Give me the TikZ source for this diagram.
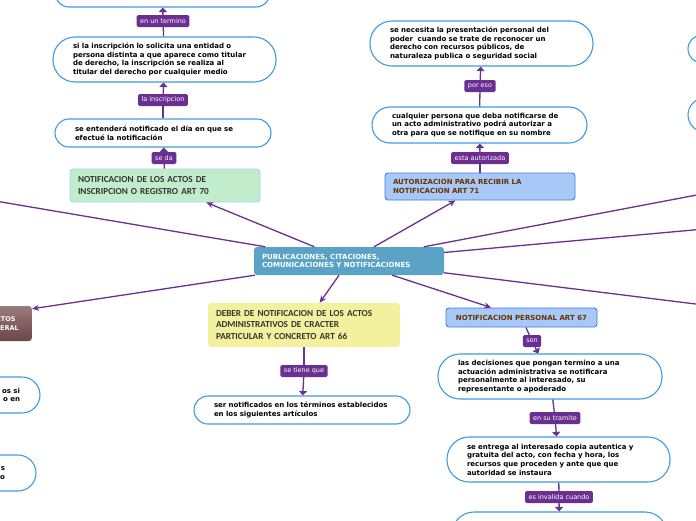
\documentclass[tikz,border=0pt]{standalone}
\usepackage{fontspec}
\newfontfamily\dejavu{DejaVu Sans}
\newfontfamily\carlito{Carlito}
\usetikzlibrary{arrows.meta}

\definecolor{linkpurple}{HTML}{6B2E91}
\definecolor{pillblue}{HTML}{3D9BDF}
\definecolor{greenfill}{HTML}{C1EDCC}
\definecolor{greenedge}{HTML}{A3D8EC}
\definecolor{yellowfill}{HTML}{F3F19D}
\definecolor{pubfill}{HTML}{5BA3C6}
\definecolor{bluefill}{HTML}{A8C9F8}
\definecolor{blueedge}{HTML}{3E7FD6}
\definecolor{browntext}{HTML}{663300}
\definecolor{browntop}{HTML}{9A7B7C}
\definecolor{brownbottom}{HTML}{6B4547}
\definecolor{topictext}{HTML}{333333}

\tikzset{
  link/.style={draw=linkpurple, line width=1.3pt},
  uplink/.style={link, -{Triangle[length=4.5pt,width=8pt]}},
  spoke/.style={link, -{Stealth[length=7pt,width=6pt]}},
  linktag/.style={fill=linkpurple, text=white, rounded corners=1.5pt,
    inner xsep=3.5pt, inner ysep=0pt, minimum height=12pt,
    font=\dejavu\fontsize{6.5}{7}\selectfont},
  pill/.style={draw=pillblue, line width=1.1pt, fill=white,
    rounded corners=#1, inner xsep=20pt, inner ysep=0pt, align=left,
    font=\dejavu\bfseries\fontsize{7}{8.7}\selectfont},
  pill/.default=14pt,
  topic/.style={rounded corners=3pt, inner xsep=8pt, inner ysep=0pt,
    align=left, text=topictext,
    font=\carlito\bfseries\fontsize{9.2}{11.5}\selectfont},
  bluetopic/.style={draw=blueedge, line width=0.9pt, fill=bluefill,
    rounded corners=3pt, inner xsep=8pt, inner ysep=0pt, align=left,
    text=browntext, font=\dejavu\bfseries\fontsize{7}{9.5}\selectfont}
}

\begin{document}
\begin{tikzpicture}[x=1pt,y=-1pt]
  \useasboundingbox (0,0) rectangle (696,520);
  \clip (0,0) rectangle (696,520);

  % centre
  \node[rounded corners=3pt, fill=pubfill, text=white, align=left,
    inner xsep=8pt, inner ysep=0pt, text width=174pt, minimum height=28pt,
    font=\dejavu\bfseries\fontsize{7}{8.6}\selectfont]
    (pub) at (349,261) {PUBLICACIONES, CITACIONES,\\COMUNICACIONES Y NOTIFICACIONES};

  % left branch: art 70
  \node[topic, fill=greenfill, draw=greenedge, line width=0.9pt,
    text width=174pt, minimum height=33pt] (inscr) at (165,185.5)
    {NOTIFICACION DE LOS ACTOS DE\\INSCRIPCION O REGISTRO ART 70};
  \node[linktag] (seda) at (164,158) {se da};
  \node[pill=14pt, text width=176pt, minimum height=28pt] (entiende) at (163,133)
    {se entenderá notificado el día en que se\\efectué la notificación};
  \node[linktag] (lainscr) at (163,100) {la inscripcion};
  \node[pill=22pt, text width=183pt, minimum height=45pt] (solicita) at (164.5,59.5)
    {si la inscripción lo solicita una entidad o\\persona distinta a que aparece como titular\\de derecho, la inscripción se realiza al\\titular del derecho por cualquier medio};
  \node[linktag] (termino) at (163,21) {en un termino};
  \node[pill=14pt, text width=175pt, minimum height=37pt] (plazo) at (162.5,-11.5) {};

  % right branch: art 71
  \node[bluetopic, text width=174pt, minimum height=27pt] (autor) at (480,186.5)
    {AUTORIZACION PARA RECIBIR LA\\NOTIFICACION ART 71};
  \node[linktag] (autoriza) at (480,158) {esta autorizada};
  \node[pill=18pt, text width=175pt, minimum height=36pt] (cualquier) at (479.5,125)
    {cualquier persona que deba notificarse de\\un acto administrativo podrá autorizar a\\otra para que se notifique en su nombre};
  \node[linktag] (poreso) at (480,86) {por eso};
  \node[pill=22pt, text width=183pt, minimum height=45pt] (poder) at (481.5,43.5)
    {se necesita la presentación personal del\\poder\ \ cuando se trate de reconocer un\\derecho con recursos públicos, de\\naturaleza publica o seguridad social};

  % middle: art 66
  \node[topic, fill=yellowfill, text width=176pt, minimum height=44pt] (deber) at (304,325)
    {DEBER DE NOTIFICACION DE LOS ACTOS\\ADMINISTRATIVOS DE CRACTER\\PARTICULAR Y CONCRETO ART 66};
  \node[linktag] (tieneque) at (304,371) {se tiene que};
  \node[pill=14pt, text width=176pt, minimum height=28pt] (terminos) at (302,410)
    {ser notificados en los términos establecidos\\en los siguientes artículos};

  % art 67
  \node[bluetopic, align=center, minimum width=151pt, minimum height=19pt] (personal) at (521.5,317.5)
    {NOTIFICACION PERSONAL ART 67};
  \node[linktag] (son) at (532,341) {son};
  \node[pill=22pt, text width=184pt, minimum height=45pt] (decisiones) at (550,376.5)
    {las decisiones que pongan termino a una\\actuación administrativa se notificara\\personalmente al interesado, su\\representante o apoderado};
  \node[linktag] (tramite) at (555,418) {en su tramite};
  \node[pill=22pt, text width=183pt, minimum height=45pt] (entrega) at (558.5,459.5)
    {se entrega al interesado copia autentica y\\gratuita del acto, con fecha y hora, los\\recursos que proceden y ante que que\\autoridad se instaura};
  \node[linktag] (invalida) at (559,497) {es invalida cuando};
  \node[pill=22pt, text width=175pt, minimum height=45pt] (invalidez) at (559.5,534.5) {};

  % cut off at the edges
  \node[top color=browntop, bottom color=brownbottom, rounded corners=3pt,
    text=white, align=left, inner xsep=13pt, inner ysep=0pt, minimum height=35pt,
    font=\dejavu\bfseries\fontsize{6.5}{8.5}\selectfont, anchor=east]
    (general) at (32,323.5) {PUBLICIDAD DE ACTOS\\DE CARACTER GENERAL};
  \node[pill=18pt, align=right, text width=150pt, minimum height=36pt] (izqA) at (-55,395) {os si\\o en};
  \node[pill=18pt, align=right, inner xsep=31pt, text width=150pt, minimum height=36pt] (izqB) at (-70,473) {s\\lo};
  \node[pill=14pt, text width=175pt, minimum height=28pt] (derA) at (795.5,49) {};
  \node[pill=17pt, text width=175pt, minimum height=34pt] (derB) at (795.5,115) {};
  \coordinate (offW) at (-40,195);
  \coordinate (offA) at (760,183);
  \coordinate (offB) at (760,224);
  \coordinate (offC) at (760,312);

  % spokes from the centre
  \draw[spoke] (pub) -- (inscr);
  \draw[spoke] (pub) -- (autor);
  \draw[spoke] (pub) -- (deber);
  \draw[spoke] (pub) -- (personal);
  \draw[spoke] (pub) -- ([yshift=-3pt]general.north east);
  \draw[link] (pub) -- (offW);
  \draw[link] (pub) -- (offA);
  \draw[link] (pub) -- (offB);
  \draw[link] (pub) -- (offC);

  % chains
  \draw[link] (inscr) -- (seda);
  \draw[uplink] (seda) -- (entiende);
  \draw[link] (entiende) -- (lainscr);
  \draw[uplink] (lainscr) -- (solicita);
  \draw[link] (solicita) -- (termino);
  \draw[uplink] (termino) -- (plazo);

  \draw[link] (autor) -- (autoriza);
  \draw[uplink] (autoriza) -- (cualquier);
  \draw[link] (cualquier) -- (poreso);
  \draw[uplink] (poreso) -- (poder);

  \draw[link] (deber) -- (tieneque);
  \draw[uplink] (tieneque) -- (terminos);

  \draw[link] (personal) -- (son);
  \draw[uplink] (son) -- (decisiones);
  \draw[link] (decisiones) -- (tramite);
  \draw[uplink] (tramite) -- (entrega);
  \draw[link] (entrega) -- (invalida);
  \draw[uplink] (invalida) -- (invalidez);
\end{tikzpicture}
\end{document}
